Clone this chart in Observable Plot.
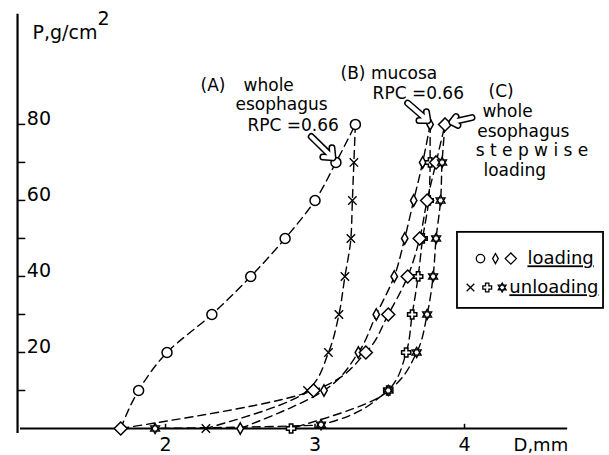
<!DOCTYPE html>
<html><head><meta charset="utf-8">
<script src="https://cdn.jsdelivr.net/npm/d3@7"></script>
<script src="https://cdn.jsdelivr.net/npm/@observablehq/plot@0.6"></script>
<style>html,body{margin:0;padding:0;background:#fff;}</style>
</head><body><div id="chart"></div>
<script>
// ---- data (D in mm, P in g/cm^2) ----
const loadP   = [0, 10, 20, 30, 40, 50, 60, 70, 80];
const unloadP = [80, 70, 60, 50, 40, 30, 20, 10, 0];
const aLoadD   = [1.70, 1.82, 2.01, 2.31, 2.57, 2.80, 3.00, 3.14, 3.27];
const aUnloadD = [3.27, 3.26, 3.25, 3.24, 3.20, 3.16, 3.09, 2.95, 2.27];
const bLoadD   = [2.50, 3.06, 3.29, 3.41, 3.53, 3.60, 3.66, 3.72, 3.77];
const bUnloadD = [3.77, 3.77, 3.76, 3.72, 3.69, 3.65, 3.61, 3.49, 2.84];
const cLoadD   = [1.70, 2.99, 3.34, 3.49, 3.62, 3.70, 3.75, 3.81, 3.87];
const cUnloadP = [80, 70, 60, 50, 40, 30, 20, 10, 1, 0];
const cUnloadD = [3.87, 3.85, 3.84, 3.81, 3.79, 3.75, 3.68, 3.49, 3.04, 1.93];
const xTicks = [2, 3, 4];
const yTicks = [10, 20, 30, 40, 50, 60, 70, 80];
const yLabels = [20, 40, 60, 80];

// ---- custom symbols ----
const sym = f => ({draw(ctx, size) { const r = Math.sqrt(size / Math.PI); f(ctx, r); }});
const narrowDiamond = sym((c, r) => { c.moveTo(0, -r*1.1); c.lineTo(r*0.62, 0); c.lineTo(0, r*1.1); c.lineTo(-r*0.62, 0); c.closePath(); });
const bigDiamond = sym((c, r) => { c.moveTo(0, -r); c.lineTo(r, 0); c.lineTo(0, r); c.lineTo(-r, 0); c.closePath(); });
const times = sym((c, r) => { c.moveTo(-r, -r); c.lineTo(r, r); c.moveTo(-r, r); c.lineTo(r, -r); });
const fatPlus = sym((c, r) => {
  const a = r*0.38;
  const pts = [[-a,-r],[a,-r],[a,-a],[r,-a],[r,a],[a,a],[a,r],[-a,r],[-a,a],[-r,a],[-r,-a],[-a,-a]];
  pts.forEach(([x,y],i) => i ? c.lineTo(x,y) : c.moveTo(x,y)); c.closePath();
});
const hexagram = sym((c, r) => {
  for (const off of [-Math.PI/2, Math.PI/2]) {
    for (let i = 0; i < 3; i++) { const t = off + i*2*Math.PI/3; const x = r*Math.cos(t), y = r*Math.sin(t); i ? c.lineTo(x,y) : c.moveTo(x,y); }
    c.closePath();
  }
});

const mk = (s, Ds, Ps) => Ds.map((D, i) => ({series: s, D, P: Ps[i], i}));
const aL = mk("aL", aLoadD, loadP), aU = mk("aU", aUnloadD, unloadP);
const bL = mk("bL", bLoadD, loadP), bU = mk("bU", bUnloadD, unloadP);
const cL = mk("cL", cLoadD, loadP), cU = mk("cU", cUnloadD, cUnloadP);
const allLines = [...aL, ...aU, ...bL, ...bU, ...cL, ...cU];

const font = "DejaVu Sans";
const dotStyle = {x: "D", y: "P", fill: "white", stroke: "black", strokeWidth: 1.5};

const annotations = [
  {t: "(A)", x: 2.234, y: 90.3}, {t: "whole", x: 2.522, y: 90.3},
  {t: "esophagus", x: 2.468, y: 85.2}, {t: "RPC =0.66", x: 2.548, y: 79.6},
  {t: "(B) mucosa", x: 3.171, y: 93.4}, {t: "RPC =0.66", x: 3.385, y: 88.2},
  {t: "(C)", x: 4.161, y: 88.6}, {t: "whole", x: 4.12, y: 83.4},
  {t: "esophagus", x: 4.085, y: 78.2}, {t: "s t e p w i s e", x: 4.075, y: 73.0},
  {t: "loading", x: 4.127, y: 67.8}
];
const arrows = [
  {x1: 2.975, y1: 76.8, x2: 3.12, y2: 71.2},
  {x1: 3.62, y1: 85.6, x2: 3.755, y2: 81.0},
  {x1: 4.05, y1: 81.8, x2: 3.915, y2: 80.6}
];

const chart = Plot.plot({
  width: 609, height: 455, margin: 0,
  x: {domain: [0.896, 4.970], axis: null},
  y: {domain: [-7.1, 112.6], axis: null},
  style: {background: "white", overflow: "visible"},
  marks: [
    // axes
    Plot.ruleY([0], {x1: 1.03, x2: 4.69, strokeWidth: 2}),
    Plot.ruleX([1.01], {y1: -1.3, y2: 109, strokeWidth: 2.2}),
    Plot.ruleY(yTicks, {x1: 1.01, x2: 1.065, strokeWidth: 1.5}),
    Plot.ruleX(xTicks, {y1: 0, y2: 1.1, strokeWidth: 1.5}),
    Plot.text(yLabels, {x: 1.072, y: d => d, text: d => String(d), textAnchor: "start", lineAnchor: "bottom", dy: 1, fontSize: 19, fontFamily: font, fill: "black"}),
    Plot.text(xTicks, {x: d => d, y: -4.3, text: d => String(d), fontSize: 19, fontFamily: font, fill: "black"}),
    Plot.text(["D,mm"], {x: 4.328, y: -4.5, text: d => d, textAnchor: "start", fontSize: 18, fontFamily: font, fill: "black"}),
    Plot.text(["P,g/cm"], {x: 1.11, y: 104.2, text: d => d, textAnchor: "start", fontSize: 19, fontFamily: font, fill: "black"}),
    Plot.text(["2"], {x: 1.545, y: 107.8, text: d => d, textAnchor: "start", fontSize: 19, fontFamily: font, fill: "black"}),
    // curves
    Plot.line(allLines, {x: "D", y: "P", z: "series", curve: "monotone-y", stroke: "black", strokeWidth: 1.4, strokeDasharray: "8,5"}),
    // markers
    Plot.dot(aL.filter(d => d.i > 0), {...dotStyle, r: 5}),
    Plot.dot(aU.filter(d => d.i > 0), {...dotStyle, r: 4.2, symbol: times, strokeWidth: 1.4}),
    Plot.dot(bL, {...dotStyle, r: 5.2, symbol: narrowDiamond}),
    Plot.dot(bU.filter(d => d.i > 0), {...dotStyle, r: 4.6, symbol: fatPlus}),
    Plot.dot(cL, {...dotStyle, r: 6.5, symbol: bigDiamond}),
    Plot.dot(cU.filter(d => d.i > 0), {...dotStyle, r: 5.2, symbol: hexagram, strokeWidth: 1.3}),
    // annotations
    Plot.text(annotations, {x: "x", y: "y", text: "t", textAnchor: "start", fontSize: 17, fontFamily: font, fill: "black"}),
    Plot.arrow(arrows, {x1: "x1", y1: "y1", x2: "x2", y2: "y2", stroke: "black", strokeWidth: 7, headLength: 13, headAngle: 80}),
    Plot.arrow(arrows, {x1: "x1", y1: "y1", x2: "x2", y2: "y2", stroke: "white", strokeWidth: 4, headLength: 11, headAngle: 80}),
    // legend
    Plot.rect([0], {x1: 3.953, x2: 4.93, y1: 31.6, y2: 51.6, fill: "none", stroke: "black", strokeWidth: 1.8}),
    Plot.dot([{D: 4.107, P: 44.7}], {...dotStyle, r: 4.2, strokeWidth: 1.3}),
    Plot.dot([{D: 4.207, P: 44.7}], {...dotStyle, r: 4.6, symbol: narrowDiamond, strokeWidth: 1.3}),
    Plot.dot([{D: 4.31, P: 44.7}], {...dotStyle, r: 5.6, symbol: bigDiamond, strokeWidth: 1.3}),
    Plot.dot([{D: 4.04, P: 37.1}], {...dotStyle, r: 3.8, symbol: times, strokeWidth: 1.3}),
    Plot.dot([{D: 4.152, P: 37.1}], {...dotStyle, r: 4.4, symbol: fatPlus, strokeWidth: 1.3}),
    Plot.dot([{D: 4.252, P: 37.1}], {...dotStyle, r: 4.6, symbol: hexagram, strokeWidth: 1.2}),
    Plot.text([{t: "loading", x: 4.421, y: 44.7}, {t: "unloading", x: 4.30, y: 37.1}], {x: "x", y: "y", text: "t", textAnchor: "start", fontSize: 18, fontFamily: font, fill: "black", ariaDescription: "legend-text"})
  ]
});
chart.querySelectorAll('[aria-description="legend-text"] text').forEach(t => t.style.textDecoration = "underline");
document.getElementById("chart").appendChild(chart);
</script>
</body></html>
